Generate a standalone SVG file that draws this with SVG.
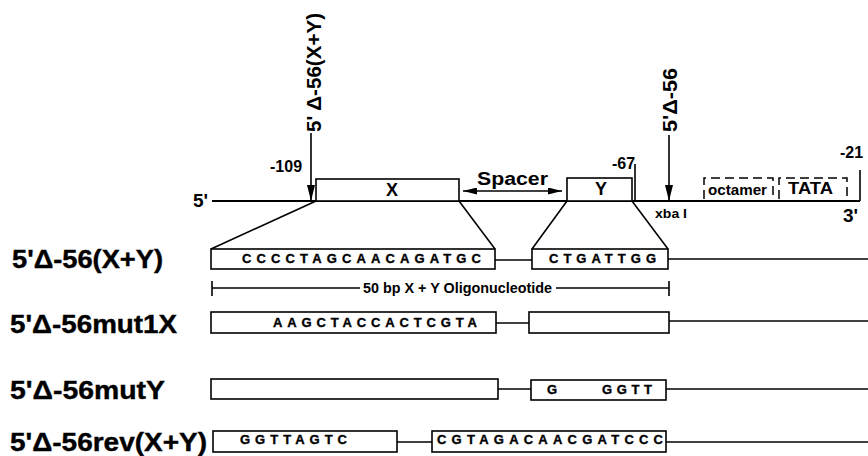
<svg xmlns="http://www.w3.org/2000/svg" width="868" height="456" viewBox="0 0 868 456">
<style>
text{font-family:"Liberation Sans",Arial,sans-serif;font-weight:bold;fill:#000}
.box{fill:#fff;stroke:#000;stroke-width:1.6}
.ln{stroke:#000;stroke-width:1.6;fill:none}
.main{stroke:#000;stroke-width:2;fill:none}
.dash{stroke:#000;stroke-width:1.5;fill:none;stroke-dasharray:9 5}
.seq{font-size:13px;stroke:#000;stroke-width:0.35}
.lab{font-size:25px;stroke:#000;stroke-width:0.4}
.num{font-size:16px}
</style>
<defs>
<marker id="ah" viewBox="0 0 16 8" refX="16" refY="4" markerWidth="16" markerHeight="8" markerUnits="userSpaceOnUse" orient="auto-start-reverse">
<path d="M0,0 L16,4 L0,8 z" fill="#000"/>
</marker>
<marker id="ah2" viewBox="0 0 14 7" refX="14" refY="3.5" markerWidth="14" markerHeight="7" markerUnits="userSpaceOnUse" orient="auto-start-reverse">
<path d="M0,0 L14,3.5 L0,7 z" fill="#000"/>
</marker>
</defs>

<g id="connectors">
<line class="main" x1="212" y1="201" x2="860" y2="201"/>
<line class="ln" x1="311" y1="133" x2="311" y2="201" marker-end="url(#ah)"/>
<line class="ln" x1="669" y1="135" x2="669" y2="201" marker-end="url(#ah)"/>
<line class="ln" x1="463" y1="191" x2="562" y2="191" marker-start="url(#ah2)" marker-end="url(#ah2)"/>
<line class="ln" x1="635" y1="164" x2="635" y2="201"/>
<line class="ln" x1="860" y1="170" x2="860" y2="201"/>
<line class="ln" x1="316" y1="201" x2="211" y2="249"/>
<line class="ln" x1="459" y1="201" x2="495" y2="249"/>
<line class="ln" x1="567" y1="201" x2="532" y2="249"/>
<line class="ln" x1="632" y1="201" x2="668" y2="249"/>
<line class="ln" x1="495" y1="260" x2="532" y2="260"/>
<line class="ln" x1="668" y1="259" x2="868" y2="259"/>
<line class="ln" x1="212" y1="288" x2="360" y2="288"/>
<line class="ln" x1="556" y1="288" x2="669" y2="288"/>
<line class="ln" x1="212" y1="281" x2="212" y2="296"/>
<line class="ln" x1="669" y1="281" x2="669" y2="296"/>
<line class="ln" x1="496" y1="323" x2="529" y2="323"/>
<line class="ln" x1="669" y1="321" x2="868" y2="321"/>
<line class="ln" x1="498" y1="389" x2="531" y2="389"/>
<line class="ln" x1="666" y1="389" x2="868" y2="389"/>
<line class="ln" x1="397" y1="442" x2="432" y2="442"/>
<line class="ln" x1="666" y1="442" x2="868" y2="442"/>
</g>

<g id="promoter">
<text x="193" y="207" font-size="19">5'</text>
<text x="843" y="222" font-size="19">3'</text>
<text x="270" y="172" font-size="16">-109</text>
<text x="612" y="169" class="num">-67</text>
<text x="840" y="158" class="num">-21</text>
<text transform="translate(321,132) rotate(-90)" font-size="21" textLength="119" lengthAdjust="spacingAndGlyphs">5' Δ-56(X+Y)</text>
<text transform="translate(677,132) rotate(-90)" font-size="21" textLength="64" lengthAdjust="spacingAndGlyphs">5'Δ-56</text>
<text x="655" y="218" font-size="13" textLength="32" lengthAdjust="spacingAndGlyphs">xba I</text>
<text x="477" y="185" font-size="18" textLength="71" lengthAdjust="spacingAndGlyphs">Spacer</text>
</g>

<g id="boxX">
<rect class="box" x="316" y="179" width="143" height="22"/>
<text x="392" y="196" font-size="18" text-anchor="middle">X</text>
</g>
<g id="boxY">
<rect class="box" x="567" y="178" width="65" height="23"/>
<text x="601" y="195" font-size="18" text-anchor="middle">Y</text>
</g>
<g id="octamer">
<path class="dash" d="M704,199 V178 H773 V199"/>
<text x="708" y="195" font-size="14" textLength="59" lengthAdjust="spacingAndGlyphs">octamer</text>
</g>
<g id="tata">
<path class="dash" d="M779,199 V178 H847 V199"/>
<text x="788" y="194" font-size="17" textLength="45" lengthAdjust="spacingAndGlyphs">TATA</text>
</g>

<g id="row1">
<text x="12" y="268" class="lab" textLength="151" lengthAdjust="spacingAndGlyphs">5'Δ-56(X+Y)</text>
<rect class="box" x="211" y="249" width="284" height="20"/>
<text x="242" y="263" class="seq" textLength="239" lengthAdjust="spacing">CCCCTAGCAACAGATGC</text>
<rect class="box" x="532" y="249" width="136" height="20"/>
<text x="549" y="263" class="seq" textLength="107" lengthAdjust="spacing">CTGATTGG</text>
</g>

<g id="scale">
<text x="363" y="293" font-size="14" textLength="189" lengthAdjust="spacingAndGlyphs">50 bp X + Y Oligonucleotide</text>
</g>

<g id="row2">
<text x="10" y="333" class="lab" textLength="167" lengthAdjust="spacingAndGlyphs">5'Δ-56mut1X</text>
<rect class="box" x="211" y="312" width="285" height="21"/>
<text x="273" y="327" class="seq" textLength="204" lengthAdjust="spacing">AAGCTACCACTCGTA</text>
<rect class="box" x="529" y="312" width="140" height="21"/>
</g>

<g id="row3">
<text x="10" y="399" class="lab" textLength="155" lengthAdjust="spacingAndGlyphs">5'Δ-56mutY</text>
<rect class="box" x="211" y="379" width="287" height="20"/>
<rect class="box" x="531" y="380" width="135" height="20"/>
<text x="547" y="394" class="seq">G</text>
<text x="602" y="394" class="seq" textLength="50" lengthAdjust="spacing">GGTT</text>
</g>

<g id="row4">
<text x="10" y="451" class="lab" textLength="197" lengthAdjust="spacingAndGlyphs">5'Δ-56rev(X+Y)</text>
<rect class="box" x="213" y="431" width="184" height="21"/>
<text x="240" y="444" class="seq" textLength="107" lengthAdjust="spacing">GGTTAGTC</text>
<rect class="box" x="432" y="431" width="234" height="21"/>
<text x="437" y="444" class="seq" textLength="226" lengthAdjust="spacing">CGTAGACAACGATCCC</text>
</g>
</svg>
